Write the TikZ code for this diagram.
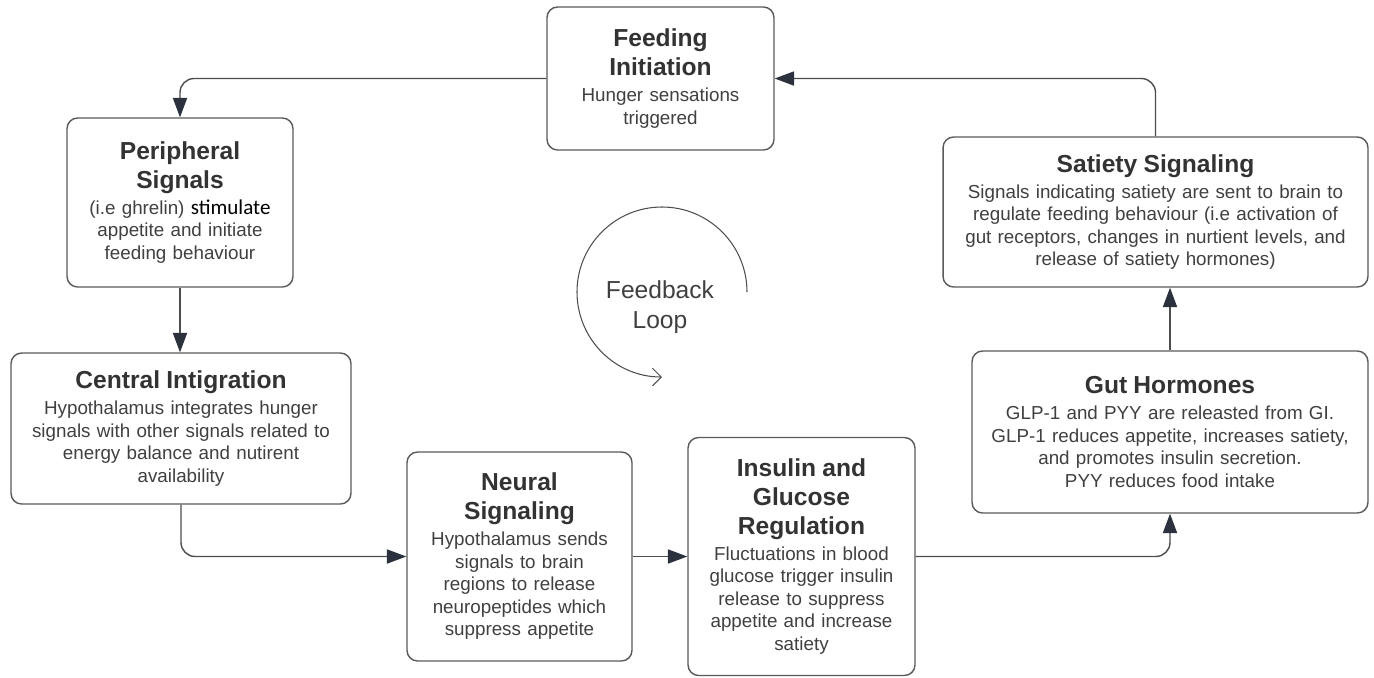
\documentclass[tikz,border=0pt]{standalone}
\usepackage{fontspec}
\setmainfont{Liberation Sans}
\newfontfamily\calibrifont{Carlito}
\usepackage{tikz}
\usetikzlibrary{arrows.meta}

\definecolor{boxgray}{HTML}{5A5A5A}
\definecolor{linegray}{HTML}{4D4D4D}
\definecolor{tipnavy}{HTML}{2B313D}
\definecolor{titlegray}{HTML}{333333}
\definecolor{bodygray}{HTML}{404040}

\newcommand{\stagetitle}[1]{{\fontsize{14}{16.5}\selectfont\bfseries\color{titlegray}#1\par}\vspace{2pt}}

\begin{document}
\begin{tikzpicture}[x=0.02cm, y=-0.02cm,
  stage/.style={draw=boxgray, line width=0.8pt, rounded corners=6pt, fill=white, align=center,
    inner sep=2pt, text=bodygray, font=\fontsize{10.7}{12.8}\selectfont},
  flow/.style={draw=linegray, line width=0.8pt, rounded corners=8pt, -{Triangle[length=11pt, width=8pt, color=tipnavy]}},
  cycle/.style={draw=linegray, line width=0.6pt, -{Straight Barb[length=5pt, width=10pt]}}]
\useasboundingbox (0,0) rectangle (1374,677);
% stages
\node[stage, minimum width=4.54cm, minimum height=2.86cm, text width=4.3cm] (NFeeding) at (660.5,78.5) {\stagetitle{Feeding\\Initiation}Hunger sensations\\triggered};
\node[stage, minimum width=4.52cm, minimum height=3.38cm, text width=4.3cm] (NPeripheral) at (180,202.5) {\stagetitle{Peripheral\\Signals}(i.e ghrelin) {\calibrifont\fontsize{12}{12.8}\selectfont\color{black}stimulate}\\appetite and initiate\\feeding behaviour};
\node[stage, minimum width=6.8cm, minimum height=3.02cm, text width=6.6cm] (NCentral) at (181,428.5) {\stagetitle{Central Intigration}Hypothalamus integrates hunger\\signals with other signals related to\\energy balance and nutirent\\availability};
\node[stage, minimum width=4.5cm, minimum height=4.18cm, text width=4.3cm] (NNeural) at (519.5,556.5) {\stagetitle{Neural\\Signaling}Hypothalamus sends\\signals to brain\\regions to release\\neuropeptides which\\suppress appetite};
\node[stage, minimum width=4.54cm, minimum height=4.76cm, text width=4.3cm] (NInsulin) at (801.5,556.5) {\stagetitle{Insulin and\\Glucose\\Regulation}Fluctuations in blood\\glucose trigger insulin\\release to suppress\\appetite and increase\\satiety};
\node[stage, minimum width=7.92cm, minimum height=3.24cm, text width=7.7cm] (NGut) at (1170,432) {\stagetitle{Gut Hormones}GLP-1 and PYY are releasted from GI.\\GLP-1 reduces appetite, increases satiety,\\and promotes insulin secretion.\\PYY reduces food intake};
\node[stage, minimum width=8.5cm, minimum height=3.0cm, text width=8.3cm] (NSatiety) at (1155.5,212) {\stagetitle{Satiety Signaling}Signals indicating satiety are sent to brain to\\regulate feeding behaviour (i.e activation of\\gut receptors, changes in nurtient levels, and\\release of satiety hormones)};
% connectors
\draw[flow] (NFeeding.west) -| (NPeripheral.north);
\draw[flow] (NPeripheral.south) -- (NPeripheral.south |- NCentral.north);
\draw[flow] (NCentral.south) |- (NNeural.west);
\draw[flow] (NNeural.east) -- (NInsulin.west);
\draw[flow] (NInsulin.east) -| (NGut.south);
\draw[flow] (NGut.north) -- (NGut.north |- NSatiety.south);
\draw[flow] (NSatiety.north) |- (NFeeding.east);
% feedback loop
\coordinate (NHub) at (662,292);
\node[align=center, text=bodygray, font=\fontsize{14}{17}\selectfont] (NLoop) at (660,307) {Feedback\\Loop};
\draw[cycle] ([xshift=85*0.02cm]NHub) arc[start angle=0, end angle=-270, radius=85];
\end{tikzpicture}
\end{document}
